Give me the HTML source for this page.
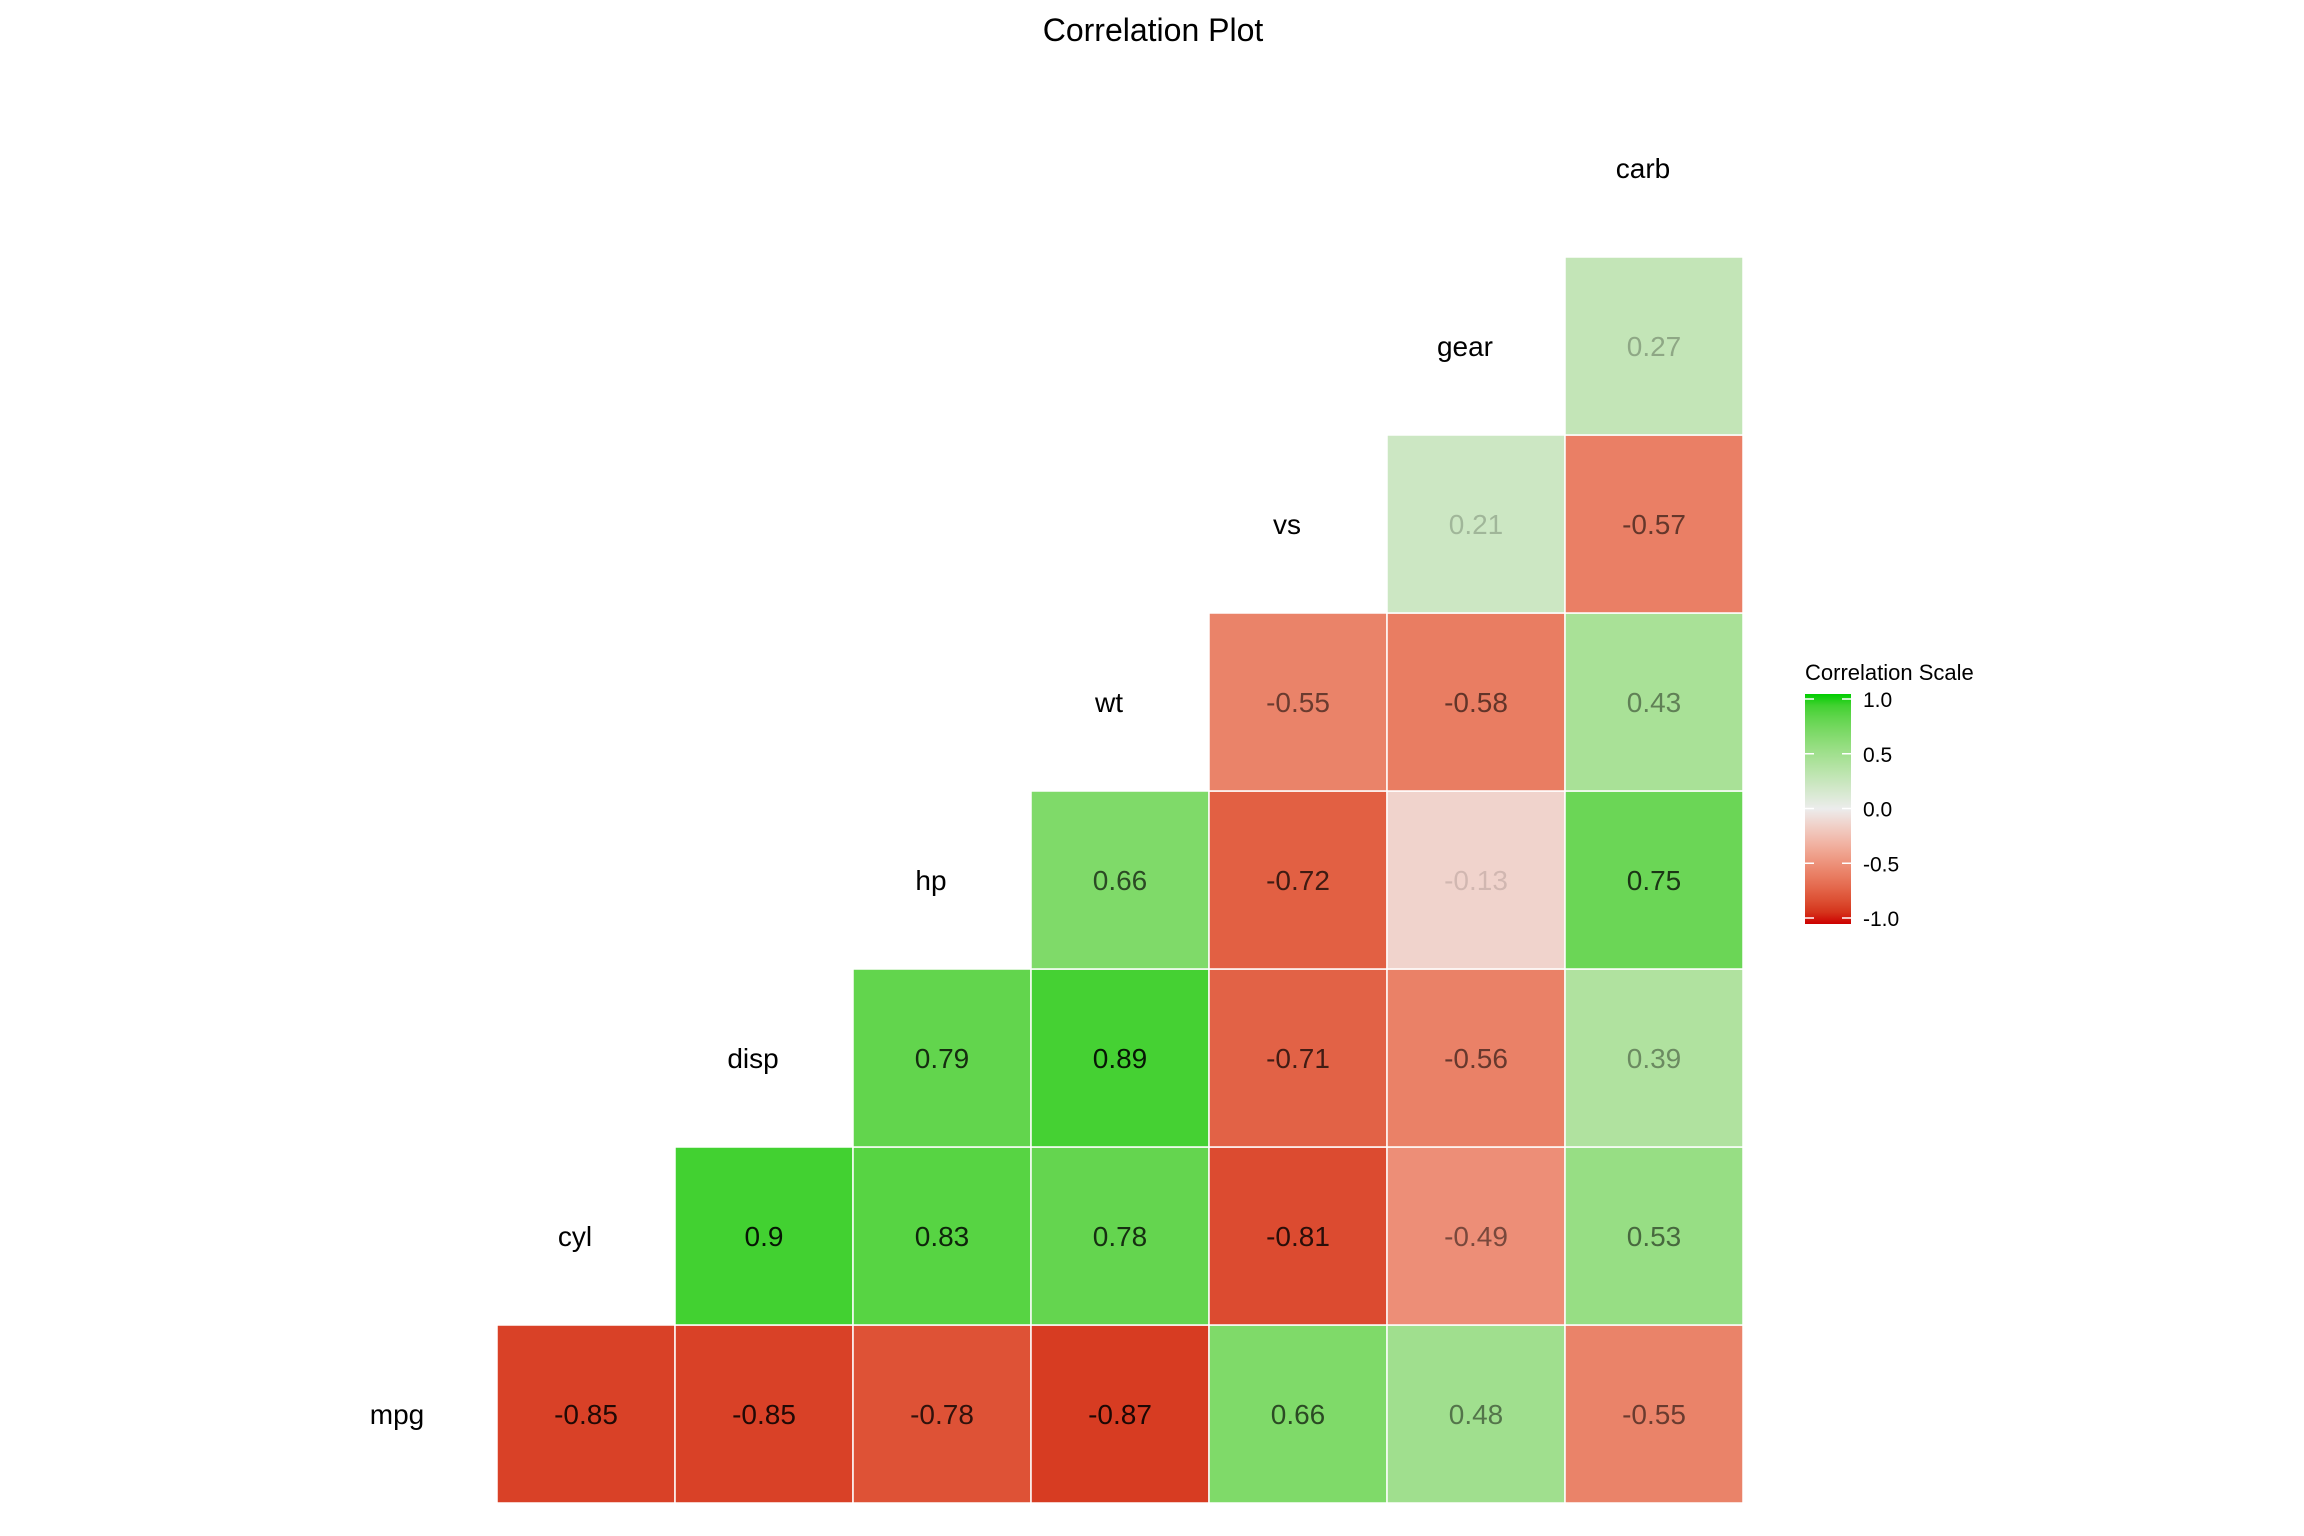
<!DOCTYPE html>
<html><head><meta charset="utf-8">
<style>
html,body{margin:0;padding:0;background:#fff;}
svg{display:block;font-family:"Liberation Sans",Arial,sans-serif;}
</style></head>
<body>
<svg id="chart" width="2304" height="1536" viewBox="0 0 2304 1536" xmlns="http://www.w3.org/2000/svg">
<rect width="2304" height="1536" fill="#fff"/>
<text x="1153" y="41" font-size="32" text-anchor="middle" fill="#000">Correlation Plot</text>
<g id="cells"></g>
<g id="labels"></g>
<g id="legend">
<defs>
<linearGradient id="lg" x1="0" y1="1" x2="0" y2="0"></linearGradient>
</defs>
<text x="1805" y="680" font-size="22" fill="#000">Correlation Scale</text>
</g>
</svg>
<script>
const variables = ["mpg","cyl","disp","hp","wt","vs","gear","carb"];
const rowMpg  = [-0.85,-0.85,-0.78,-0.87,0.66,0.48,-0.55];
const rowCyl  = [0.9,0.83,0.78,-0.81,-0.49,0.53];
const rowDisp = [0.79,0.89,-0.71,-0.56,0.39];
const rowHp   = [0.66,-0.72,-0.13,0.75];
const rowWt   = [-0.55,-0.58,0.43];
const rowVs   = [0.21,-0.57];
const rowGear = [0.27];
const legendTicks = [1.0,0.5,0.0,-0.5,-1.0];
const legendTickLabels = ["1.0","0.5","0.0","-0.5","-1.0"];

const rows = [rowMpg,rowCyl,rowDisp,rowHp,rowWt,rowVs,rowGear];
const NS = "http://www.w3.org/2000/svg";
const cell = 178, left = 497, bottom = 1503;
function xCol(c){ return left + c*cell; }
function yRow(r){ return bottom - (r+1)*cell; }

function srgb2lin(c){c/=255;return c<=0.04045?c/12.92:Math.pow((c+0.055)/1.055,2.4);}
function lin2srgb(c){c=c<=0.0031308?12.92*c:1.055*Math.pow(c,1/2.4)-0.055;return Math.max(0,Math.min(255,Math.round(c*255)));}
function toLab(rgb){
  const [r,g,b]=rgb.map(srgb2lin);
  let X=(0.4124*r+0.3576*g+0.1805*b)/0.95047,Y=0.2126*r+0.7152*g+0.0722*b,Z=(0.0193*r+0.1192*g+0.9505*b)/1.08883;
  const f=t=>t>0.008856?Math.cbrt(t):7.787*t+16/116;
  const fx=f(X),fy=f(Y),fz=f(Z);
  return [116*fy-16,500*(fx-fy),200*(fy-fz)];
}
function fromLab(L){
  const fy=(L[0]+16)/116,fx=fy+L[1]/500,fz=fy-L[2]/200;
  const fi=t=>t*t*t>0.008856?t*t*t:(t-16/116)/7.787;
  const X=fi(fx)*0.95047,Y=fi(fy),Z=fi(fz)*1.08883;
  const r=3.2406*X-1.5372*Y-0.4986*Z,g=-0.9689*X+1.8758*Y+0.0415*Z,b=0.0557*X-0.2040*Y+1.0570*Z;
  return "rgb("+lin2srgb(r)+","+lin2srgb(g)+","+lin2srgb(b)+")";
}
const LOW=toLab([205,0,0]),MID=toLab([236,236,236]),HIGH=toLab([0,205,0]);
function colorFor(v){
  const a=v<0?LOW:HIGH,t=Math.min(1,Math.abs(v));
  return fromLab([0,1,2].map(i=>MID[i]+(a[i]-MID[i])*t));
}

const gCells=document.getElementById("cells");
rows.forEach((vals,r)=>{
  vals.forEach((v,k)=>{
    const c=r+k;
    const rect=document.createElementNS(NS,"rect");
    rect.setAttribute("x",xCol(c));rect.setAttribute("y",yRow(r));
    rect.setAttribute("width",cell);rect.setAttribute("height",cell);
    rect.setAttribute("fill",colorFor(v));rect.setAttribute("stroke","#fff");rect.setAttribute("stroke-width","1.5");
    
    
    gCells.appendChild(rect);
    const t=document.createElementNS(NS,"text");
    t.setAttribute("x",xCol(c)+cell/2);t.setAttribute("y",yRow(r)+cell/2+10);
    t.setAttribute("text-anchor","middle");t.setAttribute("font-size","28");
    t.setAttribute("fill","#000");t.setAttribute("fill-opacity",Math.abs(v));
    t.textContent=String(v);
    
    
    gCells.appendChild(t);
  });
});
const gLab=document.getElementById("labels");
variables.forEach((name,i)=>{
  const t=document.createElementNS(NS,"text");
  t.setAttribute("x",xCol(i-1)+cell/2-11);t.setAttribute("y",yRow(i)+cell/2+10);
  t.setAttribute("text-anchor","middle");t.setAttribute("font-size","28");t.setAttribute("fill","#000");
  t.textContent=name;
  
  
  gLab.appendChild(t);
});
const grad=document.getElementById("lg");
for(let i=0;i<=20;i++){
  const v=-1+i/10;
  const s=document.createElementNS(NS,"stop");
  s.setAttribute("offset",(i/20));s.setAttribute("stop-color",colorFor(v));
  grad.appendChild(s);
}
const gLeg=document.getElementById("legend");
const barX=1805,barW=46,barTop=694,barBot=924,v1y=699,vm1y=918;
function yLeg(v){return vm1y+(v+1)/2*(v1y-vm1y);}
const bar=document.createElementNS(NS,"rect");
bar.setAttribute("x",barX);bar.setAttribute("y",barTop);bar.setAttribute("width",barW);bar.setAttribute("height",barBot-barTop);
bar.setAttribute("fill","url(#lg)");


gLeg.appendChild(bar);
legendTicks.forEach((v,i)=>{
  const y=yLeg(v);
  [[barX,barX+9],[barX+barW-9,barX+barW]].forEach(p=>{
    const l=document.createElementNS(NS,"line");
    l.setAttribute("x1",p[0]);l.setAttribute("x2",p[1]);l.setAttribute("y1",y);l.setAttribute("y2",y);
    l.setAttribute("stroke","#fff");l.setAttribute("stroke-width","1.5");
    
    
    gLeg.appendChild(l);
  });
  const t=document.createElementNS(NS,"text");
  t.setAttribute("x",barX+58);t.setAttribute("y",y+8);t.setAttribute("font-size","21");t.setAttribute("fill","#000");
  t.textContent=legendTickLabels[i];
  
  
  gLeg.appendChild(t);
});
</script>
</body></html>
